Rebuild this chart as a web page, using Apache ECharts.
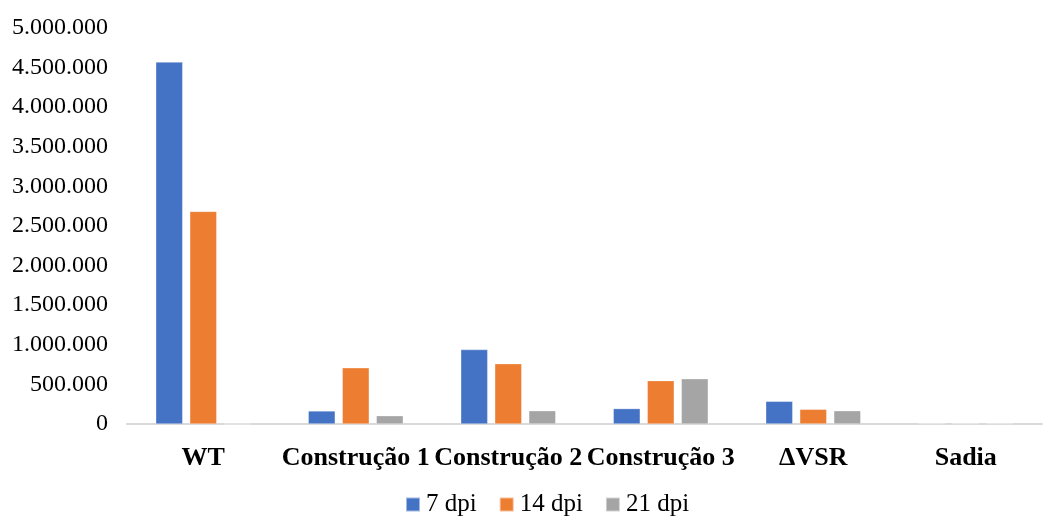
<!DOCTYPE html>
<html>
<head>
<meta charset="utf-8">
<script src="https://cdn.jsdelivr.net/npm/echarts@6/dist/echarts.min.js"></script>
<style>
  html, body { margin: 0; padding: 0; background: #fff; }
  #chart { width: 1043px; height: 518px; }
</style>
</head>
<body>
<div id="chart"></div>
<script>
// Groups on the x axis
const categories = ['WT', 'Construção 1', 'Construção 2', 'Construção 3', 'ΔVSR', 'Sadia'];

// Values per time point (days post infection)
const dpi7  = [4570000, 165000, 940000, 195000, 287000, 6000];
const dpi14 = [2685000, 710000, 762000, 548000, 186000, 6000];
const dpi21 = [0,       105000, 168000, 572000, 168000, 6000];

const seriesNames = ['7 dpi', '14 dpi', '21 dpi'];
const colors = ['#4472C4', '#ED7D31', '#A5A5A5'];

function fmtThousands(v) {
  return String(Math.round(v)).replace(/\B(?=(\d{3})+(?!\d))/g, '.');
}

const FONT = 'Liberation Serif';
const chart = echarts.init(document.getElementById('chart'), null, { renderer: 'canvas' });

const series = [dpi7, dpi14, dpi21].map((data, i) => ({
  name: seriesNames[i],
  type: 'bar',
  data: data,
  barWidth: 27,
  barGap: '26%',
  itemStyle: { color: colors[i], borderColor: 'rgba(255,255,255,0.5)', borderWidth: 0.6 },
  emphasis: { disabled: true }
}));

chart.setOption({
  animation: false,
  color: colors,
  grid: { left: 127, right: 1, top: 28, bottom: 94, containLabel: false },
  legend: {
    data: seriesNames,
    left: 400,
    top: 487,
    itemWidth: 14,
    itemHeight: 14,
    itemGap: 22,
    icon: 'rect',
    textStyle: { fontFamily: FONT, fontSize: 25, color: '#000', padding: [0, 0, 0, 1] }
  },
  xAxis: {
    type: 'category',
    data: categories,
    axisLine: { show: true, lineStyle: { color: '#d9d9d9', width: 2 } },
    axisTick: { show: false },
    axisLabel: {
      interval: 0,
      margin: 21,
      fontFamily: FONT,
      fontSize: 26,
      fontWeight: 'bold',
      color: '#000'
    },
    splitLine: { show: false }
  },
  yAxis: {
    type: 'value',
    min: 0,
    max: 5000000,
    interval: 500000,
    axisLine: { show: false },
    axisTick: { show: false },
    splitLine: { show: false },
    axisLabel: {
      margin: 19,
      fontFamily: FONT,
      fontSize: 24,
      color: '#000',
      formatter: fmtThousands
    }
  },
  series: series
});
</script>
</body>
</html>
